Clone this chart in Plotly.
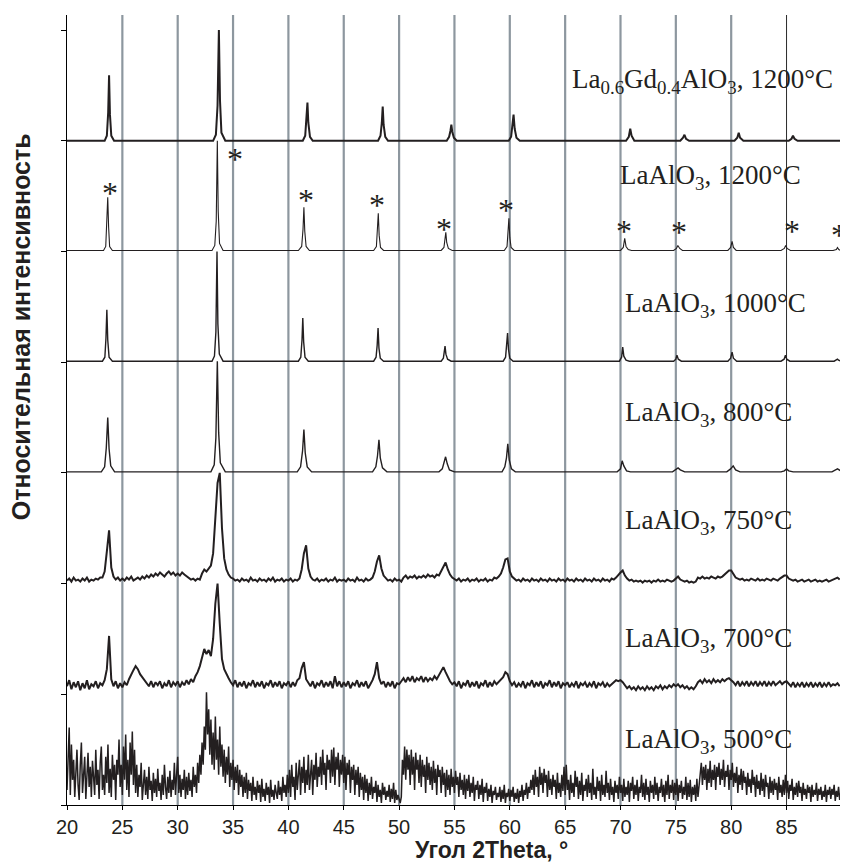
import plotly.graph_objects as go

# ---------------- data ----------------
sample_labels = [
    "La<sub>0.6</sub>Gd<sub>0.4</sub>AlO<sub>3</sub>, 1200°C",
    "LaAlO<sub>3</sub>, 1200°C",
    "LaAlO<sub>3</sub>, 1000°C",
    "LaAlO<sub>3</sub>, 800°C",
    "LaAlO<sub>3</sub>, 750°C",
    "LaAlO<sub>3</sub>, 700°C",
    "LaAlO<sub>3</sub>, 500°C",
]
offsets = [660, 550, 440, 330, 220, 110, 0]

x_tick_vals = [20, 25, 30, 35, 40, 45, 50, 55, 60, 65, 70, 75, 80, 85]

# La0.6Gd0.4AlO3, 1200 C
x_gd1200 = [20.0, 23.4, 23.6, 23.72, 23.8, 23.88, 24.0, 24.25,
            33.2, 33.45, 33.6, 33.72, 33.82, 33.95, 34.3,
            41.3, 41.52, 41.64, 41.72, 41.8, 41.95, 42.2,
            48.1, 48.32, 48.44, 48.52, 48.6, 48.75, 49.0,
            54.3, 54.52, 54.64, 54.72, 54.8, 54.95, 55.2,
            59.9, 60.12, 60.25, 60.34, 60.44, 60.6, 60.9,
            70.5, 70.75, 70.88, 71.0, 71.25,
            75.4, 75.65, 75.78, 75.92, 76.2,
            80.3, 80.55, 80.68, 80.8, 81.1,
            85.2, 85.45, 85.58, 85.72, 86.0,
            89.9]
i_gd1200 = [0, 0, 5, 28, 65, 26, 5, 0,
            0, 6, 35, 110, 40, 8, 0,
            0, 5, 20, 38, 18, 4, 0,
            0, 5, 18, 34, 16, 4, 0,
            0, 4, 10, 16, 9, 3, 0,
            0, 4, 14, 26, 12, 3, 0,
            0, 4, 12, 5, 0,
            0, 3, 6, 2, 0,
            0, 3, 8, 3, 0,
            0, 2, 5, 2, 0,
            0]

# LaAlO3, 1200 C
x_la1200 = [20.0, 23.3, 23.5, 23.6, 23.68, 23.76, 23.85, 24.1,
            33.1, 33.35, 33.48, 33.58, 33.66, 33.78, 34.1,
            40.9, 41.2, 41.32, 41.4, 41.48, 41.6, 41.9,
            47.7, 47.95, 48.05, 48.12, 48.2, 48.32, 48.6,
            53.8, 54.05, 54.15, 54.22, 54.3, 54.45, 54.8,
            59.5, 59.75, 59.85, 59.92, 60.0, 60.12, 60.4,
            70.0, 70.25, 70.38, 70.5, 70.7, 71.0,
            74.8, 75.05, 75.18, 75.35, 75.6,
            79.7, 79.95, 80.08, 80.2, 80.45,
            84.5, 84.8, 84.92, 85.05, 85.35,
            89.2, 89.5, 89.6, 89.72, 89.9]
i_la1200 = [1, 1, 5, 25, 54, 24, 5, 1,
            1, 6, 30, 110, 40, 8, 1,
            1, 5, 22, 44, 20, 5, 1,
            1, 5, 20, 38, 16, 4, 1,
            1, 4, 12, 19, 9, 3, 1,
            1, 5, 18, 33, 14, 4, 1,
            1, 4, 13, 5, 2, 1,
            1, 3, 6, 3, 1,
            1, 4, 10, 4, 1,
            1, 3, 6, 3, 1,
            1, 2, 4, 2, 1]

# LaAlO3, 1000 C
x_la1000 = [20.0, 23.2, 23.42, 23.52, 23.6, 23.68, 23.8, 24.1,
            33.1, 33.32, 33.45, 33.55, 33.63, 33.76, 34.1,
            40.9, 41.12, 41.23, 41.3, 41.38, 41.5, 41.8,
            47.7, 47.92, 48.02, 48.1, 48.18, 48.3, 48.6,
            53.8, 54.0, 54.08, 54.15, 54.23, 54.38, 54.7,
            59.4, 59.62, 59.72, 59.8, 59.88, 60.0, 60.3,
            69.9, 70.1, 70.2, 70.3, 70.5, 70.8,
            74.8, 75.0, 75.1, 75.22, 75.5,
            79.7, 79.95, 80.08, 80.2, 80.5,
            84.5, 84.78, 84.9, 85.02, 85.3,
            89.3, 89.5, 89.6, 89.7, 89.9]
i_la1000 = [1, 1, 5, 24, 52, 22, 5, 1,
            1, 6, 30, 110, 38, 8, 1,
            1, 5, 22, 44, 20, 5, 1,
            1, 5, 17, 34, 14, 4, 1,
            1, 4, 10, 16, 8, 3, 1,
            1, 5, 15, 29, 13, 4, 1,
            1, 5, 15, 6, 2, 1,
            1, 3, 7, 3, 1,
            1, 4, 10, 4, 1,
            1, 3, 7, 3, 1,
            1, 2, 3, 2, 1]

# LaAlO3, 800 C
x_la800 = [20.0, 23.1, 23.4, 23.55, 23.68, 23.8, 23.95, 24.3,
           33.0, 33.3, 33.45, 33.58, 33.7, 33.85, 34.3,
           40.8, 41.1, 41.28, 41.4, 41.52, 41.7, 42.1,
           47.6, 47.9, 48.05, 48.18, 48.3, 48.5, 48.9,
           53.6, 53.9, 54.05, 54.2, 54.35, 54.55, 55.0,
           59.3, 59.55, 59.7, 59.82, 59.95, 60.15, 60.5,
           69.7, 70.0, 70.15, 70.3, 70.55, 70.9,
           74.7, 75.0, 75.2, 75.4, 75.8,
           79.6, 79.95, 80.18, 80.4, 80.8,
           84.5, 84.8, 85.0, 85.2, 85.6,
           89.1, 89.4, 89.6, 89.75, 89.9]
i_la800 = [1, 1, 6, 25, 55, 24, 7, 1,
           1, 8, 35, 111, 40, 10, 1,
           1, 6, 22, 43, 20, 6, 1,
           1, 6, 17, 33, 15, 5, 1,
           1, 4, 10, 16, 9, 3, 1,
           1, 6, 15, 29, 13, 4, 1,
           1, 4, 12, 7, 2, 1,
           1, 3, 5, 3, 1,
           1, 4, 7, 3, 1,
           1, 2, 4, 2, 1,
           1, 3, 4, 3, 2]

# noisy patterns: evenly stepped readings starting at 20.0 deg
noisy_start = 20.0
step_la750 = 0.2
step_la700 = 0.2
step_la500 = 0.1

i_la750 = (
    [3, 5, 2, 6, 3, 4, 2, 5, 3, 6, 2, 4, 3, 5, 4, 6, 6, 12, 32, 53, 16, 7, 4, 6, 3]
    + [5, 3, 6, 4, 7, 3, 5, 6, 4, 7, 5, 8, 6, 9, 7, 10, 8, 11, 9, 7, 10, 12, 9, 11, 8]
    + [10, 8, 11, 9, 7, 6, 4, 5, 3, 5, 4, 10, 14, 12, 15, 18, 30, 60, 100, 110, 55, 25, 14, 9, 6]
    + [5, 3, 4, 2, 5, 3, 4, 2, 6, 3, 4, 2, 5, 3, 4, 2, 5, 3, 6, 2, 4, 3, 5, 2, 4]
    + [3, 5, 2, 4, 3, 5, 14, 30, 38, 15, 7, 4, 3, 5, 2, 4, 3, 5, 2, 4, 3, 6, 2, 4, 3]
    + [4, 2, 5, 3, 4, 2, 6, 3, 4, 2, 5, 3, 4, 6, 12, 22, 28, 15, 8, 5, 3, 4, 2, 5, 3]
    + [4, 2, 6, 8, 5, 7, 6, 8, 5, 7, 6, 8, 6, 9, 7, 8, 6, 9, 8, 12, 16, 21, 14, 9, 6]
    + [4, 3, 5, 2, 4, 3, 5, 2, 4, 3, 5, 2, 4, 3, 5, 2, 4, 3, 6, 5, 7, 10, 16, 24, 25]
    + [12, 7, 5, 3, 4, 2, 5, 3, 4, 2, 5, 3, 4, 2, 5, 3, 4, 2, 5, 3, 4, 2, 5, 3, 4]
    + [2, 5, 3, 4, 2, 5, 3, 4, 2, 5, 3, 4, 2, 5, 3, 4, 2, 5, 3, 4, 2, 5, 4, 6, 9]
    + [11, 13, 8, 5, 3, 4, 2, 3, 2, 3, 1, 3, 2, 3, 1, 3, 2, 4, 2, 3, 2, 4, 3, 2, 3]
    + [5, 7, 4, 3, 2, 3, 1, 2, 1, 2, 6, 5, 7, 5, 6, 5, 7, 6, 5, 7, 6, 7, 9, 11, 13]
    + [13, 9, 6, 5, 4, 5, 3, 4, 3, 5, 4, 3, 5, 3, 4, 3, 5, 4, 3, 5, 4, 3, 5, 7, 8]
    + [8, 5, 4, 3, 4, 2, 3, 4, 2, 3, 4, 2, 3, 4, 2, 3, 2, 3, 4, 2, 3, 4, 5, 6, 4]
)

i_la700 = (
    [8, 14, 5, 12, 7, 13, 4, 11, 6, 14, 5, 10, 8, 13, 6, 11, 9, 14, 25, 58, 15, 8, 13, 6, 11]
    + [7, 12, 9, 15, 20, 24, 28, 25, 20, 17, 14, 12, 8, 13, 7, 12, 9, 13, 6, 11, 8, 14, 7, 12, 9]
    + [13, 7, 12, 9, 14, 10, 15, 12, 18, 22, 28, 38, 45, 40, 44, 38, 55, 90, 110, 70, 35, 25, 20, 16, 12]
    + [9, 14, 7, 12, 8, 13, 6, 11, 9, 14, 7, 12, 8, 13, 6, 11, 9, 14, 7, 12, 8, 13, 6, 11, 9]
    + [13, 7, 12, 8, 14, 16, 26, 32, 15, 11, 8, 13, 6, 11, 9, 14, 7, 12, 8, 13, 6, 18, 8, 13, 7]
    + [12, 8, 13, 6, 11, 9, 14, 7, 12, 8, 13, 6, 10, 14, 20, 32, 16, 10, 13, 7, 12, 8, 13, 6, 11]
    + [10, 13, 16, 12, 17, 13, 18, 12, 16, 14, 18, 12, 17, 13, 16, 14, 18, 15, 19, 24, 27, 22, 17, 13, 10]
    + [12, 8, 13, 6, 11, 9, 14, 7, 12, 8, 13, 6, 11, 9, 14, 7, 12, 8, 13, 10, 12, 14, 17, 22, 20]
    + [13, 9, 12, 7, 11, 8, 13, 6, 11, 9, 14, 7, 12, 8, 13, 6, 11, 9, 14, 7, 12, 8, 13, 6, 11]
    + [9, 12, 7, 11, 8, 13, 6, 11, 9, 12, 7, 11, 8, 13, 6, 11, 9, 12, 7, 11, 8, 10, 12, 14, 13]
    + [14, 12, 9, 6, 8, 5, 7, 4, 8, 5, 7, 4, 8, 5, 7, 4, 8, 6, 9, 5, 8, 6, 9, 7, 10]
    + [8, 10, 7, 9, 6, 8, 5, 7, 5, 8, 12, 14, 11, 15, 12, 14, 11, 15, 12, 14, 12, 15, 13, 15, 16]
    + [14, 12, 9, 13, 8, 12, 9, 13, 8, 12, 9, 13, 8, 12, 9, 13, 8, 12, 9, 13, 9, 11, 13, 10, 12]
    + [13, 10, 8, 12, 7, 11, 8, 12, 7, 11, 8, 12, 7, 11, 8, 12, 7, 11, 8, 12, 8, 10, 9, 11, 8]
)

i_la500 = (
    # 20.0 - 24.9
    [15, 50, 77, 10, 60, 25, 45, 8, 35, 55, 20, 5, 40, 62, 12, 30, 48, 6, 25, 52,
     18, 38, 8, 44, 28, 10, 55, 20, 35, 6, 42, 58, 15, 30, 10, 48, 22, 60, 12, 36,
     8, 50, 25, 40, 5, 45, 30, 65, 18, 40]
    # 25.0 - 29.9
    + [10, 58, 25, 70, 15, 45, 8, 62, 30, 73, 20, 55, 12, 40, 8, 30, 18, 42, 5, 25,
       35, 10, 28, 6, 38, 15, 24, 4, 32, 12, 26, 8, 36, 14, 22, 5, 30, 10, 40, 18,
       6, 28, 12, 34, 8, 25, 15, 42, 10, 30]
    # 30.0 - 34.9
    + [48, 12, 30, 8, 26, 15, 35, 6, 28, 10, 32, 14, 25, 8, 38, 18, 30, 12, 42, 22,
       50, 30, 62, 40, 78, 55, 112, 70, 95, 50, 85, 40, 72, 35, 88, 45, 65, 30, 78, 38,
       60, 28, 55, 22, 48, 30, 58, 18, 42, 25]
    # 35.0 - 39.9
    + [45, 15, 38, 22, 40, 10, 35, 18, 30, 8, 28, 12, 32, 6, 25, 14, 22, 4, 28, 10,
       18, 5, 24, 12, 20, 3, 26, 8, 16, 4, 22, 10, 18, 2, 25, 8, 15, 5, 20, 12,
       6, 24, 10, 18, 4, 28, 12, 20, 8, 30]
    # 40.0 - 44.9
    + [12, 35, 8, 40, 18, 28, 5, 42, 15, 30, 45, 10, 38, 22, 48, 12, 35, 20, 50, 15,
       30, 45, 10, 40, 25, 52, 18, 38, 28, 48, 20, 55, 30, 42, 15, 50, 35, 45, 22, 55,
       28, 57, 20, 48, 35, 52, 18, 45, 30, 50]
    # 45.0 - 49.9
    + [22, 48, 15, 42, 30, 45, 12, 38, 25, 40, 10, 35, 20, 38, 8, 32, 15, 28, 5, 30,
       12, 26, 4, 22, 10, 28, 6, 18, 12, 24, 3, 20, 8, 15, 2, 22, 10, 18, 5, 14,
       8, 20, 3, 16, 6, 22, 2, 15, 5, 10]
    # 50.0 - 54.9
    + [6, 2, 8, 45, 30, 58, 25, 55, 35, 50, 20, 55, 30, 48, 15, 52, 35, 45, 22, 50,
       18, 45, 28, 40, 12, 48, 25, 42, 20, 38, 15, 44, 22, 36, 10, 40, 28, 35, 12, 38,
       20, 32, 8, 35, 15, 30, 10, 36, 18, 28]
    # 55.0 - 59.9
    + [12, 34, 20, 28, 8, 32, 15, 25, 10, 30, 6, 26, 14, 30, 8, 22, 12, 28, 4, 20,
       15, 24, 6, 20, 10, 26, 3, 18, 12, 22, 4, 16, 8, 20, 2, 14, 10, 18, 5, 12,
       8, 18, 3, 15, 6, 20, 2, 12, 8, 16]
    # 60.0 - 64.9
    + [4, 15, 8, 18, 3, 12, 6, 16, 2, 14, 8, 20, 4, 15, 10, 22, 6, 18, 12, 25,
       15, 30, 10, 35, 18, 28, 8, 38, 20, 32, 12, 36, 22, 30, 8, 34, 15, 26, 10, 30,
       18, 25, 6, 32, 12, 22, 8, 30, 14, 38]
    # 65.0 - 69.9
    + [10, 40, 15, 25, 5, 30, 12, 22, 8, 34, 18, 28, 6, 24, 10, 32, 4, 20, 14, 26,
       8, 30, 12, 22, 5, 36, 10, 18, 6, 28, 14, 24, 4, 30, 10, 20, 8, 34, 12, 22,
       5, 26, 10, 18, 3, 24, 12, 20, 6, 28]
    # 70.0 - 74.9
    + [12, 20, 4, 26, 8, 18, 10, 24, 3, 22, 14, 28, 6, 20, 10, 25, 4, 18, 12, 30,
       8, 22, 5, 26, 10, 18, 3, 24, 12, 20, 6, 28, 10, 22, 4, 18, 12, 26, 8, 20,
       3, 24, 10, 30, 6, 20, 12, 25, 5, 22]
    # 75.0 - 79.9
    + [10, 26, 4, 20, 12, 24, 6, 18, 10, 28, 5, 22, 8, 25, 3, 18, 10, 20, 4, 26,
       8, 18, 30, 42, 20, 38, 25, 40, 15, 36, 22, 44, 18, 35, 25, 40, 15, 38, 28, 42,
       20, 36, 25, 45, 18, 34, 28, 40, 15, 35]
    # 80.0 - 84.9
    + [25, 42, 18, 32, 22, 38, 12, 30, 20, 36, 15, 34, 22, 28, 10, 32, 18, 26, 12, 35,
       20, 28, 8, 30, 16, 24, 10, 32, 14, 26, 8, 30, 18, 22, 6, 28, 12, 24, 10, 26,
       15, 22, 5, 28, 12, 20, 8, 25, 10, 30]
    # 85.0 - 89.9
    + [12, 24, 6, 20, 14, 26, 5, 18, 10, 22, 8, 24, 12, 18, 4, 22, 10, 16, 6, 20,
       12, 18, 3, 20, 8, 15, 10, 22, 4, 16, 10, 18, 5, 14, 8, 20, 3, 15, 10, 18,
       6, 16, 10, 20, 4, 14, 8, 18, 5, 12]
)

# asterisks marking LaAlO3 reflections (2theta, height on the intensity scale)
star_x = [23.9, 35.2, 41.6, 48.0, 54.1, 59.7, 70.3, 75.3, 85.5, 89.7]
star_y = [614, 648, 607, 602, 578, 597, 576, 575, 576, 572]

# ---------------- figure ----------------
def stepped_x(values, step):
    return [round(noisy_start + step * k, 2) for k in range(len(values))]

patterns = [
    (x_gd1200, i_gd1200, 2.0),
    (x_la1200, i_la1200, 1.1),
    (x_la1000, i_la1000, 1.4),
    (x_la800, i_la800, 1.4),
    (stepped_x(i_la750, step_la750), i_la750, 2.0),
    (stepped_x(i_la700, step_la700), i_la700, 2.0),
    (stepped_x(i_la500, step_la500), i_la500, 1.5),
]

ink = "#231f20"
fig = go.Figure()
for (xs, ys, lw), off, name in zip(patterns, offsets, sample_labels):
    fig.add_trace(go.Scatter(
        x=xs, y=[off + v for v in ys], mode="lines",
        line=dict(color=ink, width=lw), name=name, showlegend=False,
        hoverinfo="skip"))

# vertical grid lines at the tick positions
shapes = []
for xv in x_tick_vals[1:]:
    last = xv == x_tick_vals[-1]
    shapes.append(dict(type="line", xref="x", yref="paper", x0=xv, x1=xv,
                       y0=0, y1=1, layer="below",
                       line=dict(color="#2b2b2b" if last else "#8d979f",
                                 width=1 if last else 2.2)))

annotations = []
label_pos = [(65.4, 719), (69.8, 624), (70.25, 497), (70.25, 389),
             (70.25, 281), (70.25, 164), (70.25, 64)]
for (lx, ly), txt in zip(label_pos, sample_labels):
    annotations.append(dict(x=lx, y=ly, xref="x", yref="y", text=txt,
                            showarrow=False, xanchor="left", yanchor="middle",
                            font=dict(family="Liberation Serif", size=27,
                                      color=ink)))
for sx, sy in zip(star_x, star_y):
    annotations.append(dict(x=sx, y=sy, xref="x", yref="y", text="*",
                            showarrow=False, xanchor="center",
                            yanchor="middle", yshift=-6, borderpad=0,
                            font=dict(family="Liberation Serif", size=32,
                                      color=ink)))
annotations.append(dict(x=-0.059, y=0.605, xref="paper", yref="paper",
                        text="<b>Относительная интенсивность</b>",
                        textangle=-90, showarrow=False,
                        xanchor="center", yanchor="middle",
                        font=dict(family="Liberation Sans", size=25,
                                  color=ink)))
annotations.append(dict(x=0.547, y=-0.039, xref="paper", yref="paper",
                        text="<b>Угол 2Theta, °</b>", showarrow=False,
                        xanchor="center", yanchor="top", borderpad=0,
                        font=dict(family="Liberation Sans", size=23,
                                  color=ink)))

# the page body adds an 8px margin, so the figure is 8px smaller than the window
fig.update_layout(
    width=840, height=856,
    margin=dict(l=59, r=5, t=7, b=59),
    paper_bgcolor="white", plot_bgcolor="white",
    shapes=shapes, annotations=annotations,
    xaxis=dict(range=[20, 90.1], tickvals=x_tick_vals, ticks="outside",
               ticklen=4, tickcolor="black", showline=True,
               linecolor="black", linewidth=1, showgrid=False,
               zeroline=False,
               tickfont=dict(family="Liberation Sans", size=20, color=ink)),
    yaxis=dict(range=[0, 785], tickvals=[0, 110, 220, 330, 440, 550, 660, 770],
               ticks="outside", ticklen=5, tickcolor="black",
               showticklabels=False, showline=True, linecolor="black",
               linewidth=1, showgrid=False, zeroline=False),
)

fig.write_html("out.html")
